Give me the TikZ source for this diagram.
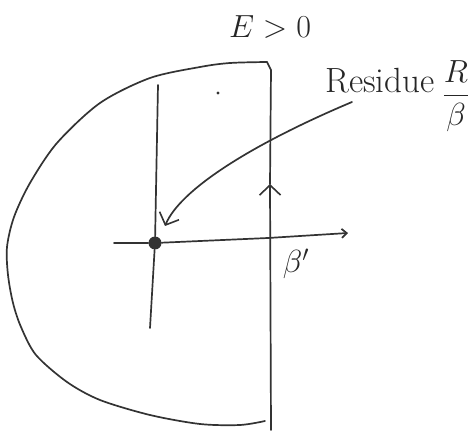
\RequirePackage{fix-cm}
\documentclass[tikz,border=0pt]{standalone}
\usepackage{amsmath}
\usepackage{tikz}
\usetikzlibrary{positioning}
\usetikzlibrary{arrows.meta}

\begin{document}
\begin{tikzpicture}[x=1pt, y=-1pt,
    >={Straight Barb[length=10pt,width=21pt,line width=1.6pt]},
    every node/.style={font=\fontsize{32}{38}\selectfont, text=black!85},
    pen/.style={line width=1.7pt, line cap=round, line join=round, draw=black!80},
    pole/.style={circle, fill=black!80, inner sep=0pt, minimum size=13pt}]
\useasboundingbox (0,0) rectangle (475,433);

% contour
\coordinate (ctop) at (267,62);
\coordinate (cbot) at (271,430);
\coordinate (cup) at (270,184);
\draw[pen] plot[smooth] coordinates {(ctop) (230,63) (200,67) (150,78) (100,103) (57,143) (30,183) (14,217) (7,247) (8,275) (13,303) (21,327) (36,355) (67,382) (100,400) (150,415) (200,424) (240,425) (265,421)};
\draw[pen, ->] (cbot) -- (cup);
\draw[pen] (cup) -- (271,70) -- (ctop);

% axes and pole
\node[pole] (pole) at (155,243) {};
\coordinate (axl) at (114,243);
\coordinate (axr) at (348,233);
\draw[pen, -{Straight Barb[length=5pt,width=9pt]}] (axl) -- (pole) -- (268,238) -- (axr);
\draw[pen] (158,85) -- (pole) -- (150,328);
\fill[black!80] (218,93) circle (1.6pt);

% labels
\node (cond) at (270,27) {$E>0$};
\node[anchor=base west, inner sep=0pt, font=\fontsize{35}{41}\selectfont] (resid) at (325,93) {Residue};
\node[inner sep=0pt] (ratio) at (456,96) {$\dfrac{R}{\beta}$};
\node (bprime) at (296,264) {$\beta'$};

\coordinate (from) at (352,102);
\draw[pen, ->] (from) .. controls (250,145) and (180,190) .. ([shift={(10,-17)}]pole.center);
\end{tikzpicture}
\end{document}
